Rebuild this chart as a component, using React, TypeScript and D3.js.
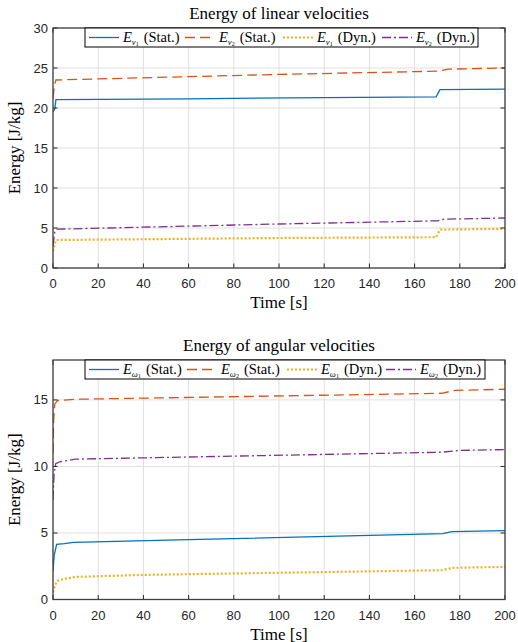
import React from 'react';
import * as d3 from 'd3';

// ---------- data ----------
const xTicks = [0, 20, 40, 60, 80, 100, 120, 140, 160, 180, 200];
const linYTicks = [0, 5, 10, 15, 20, 25, 30];
const angYTicks = [0, 5, 10, 15];

const titles = ['Energy of linear velocities', 'Energy of angular velocities'];
const xLabel = 'Time [s]';
const yLabel = 'Energy [J/kg]';

// linear velocities
const v1StatT = [0, 0.8, 1.3, 60, 120, 169.5, 170.3, 171.2, 200];
const v1StatE = [19.5, 19.9, 21.05, 21.15, 21.3, 21.4, 21.8, 22.3, 22.35];
const v2StatT = [0, 0.6, 1.3, 100, 170, 175, 200];
const v2StatE = [21.2, 22.8, 23.5, 24.2, 24.6, 24.85, 25.0];
const v1DynT = [0, 0.8, 1.5, 100, 169.5, 170.5, 171.5, 200];
const v1DynE = [2.1, 3.0, 3.5, 3.75, 3.85, 4.4, 4.8, 4.9];
const v2DynT = [0, 0.8, 1.5, 100, 170, 173, 200];
const v2DynE = [2.8, 4.5, 4.85, 5.5, 5.9, 6.1, 6.25];

// angular velocities
const w1StatT = [0, 0.5, 1.6, 5, 9, 60, 172.5, 176.5, 200];
const w1StatE = [2.1, 3.3, 4.15, 4.2, 4.3, 4.5, 4.95, 5.1, 5.18];
const w2StatT = [0, 0.3, 0.8, 2, 10, 172, 178, 200];
const w2StatE = [11.0, 13.5, 14.7, 14.95, 15.05, 15.5, 15.72, 15.8];
const w1DynT = [0, 1, 2, 5, 10, 40, 172, 177, 200];
const w1DynE = [0.55, 1.1, 1.4, 1.55, 1.7, 1.85, 2.2, 2.38, 2.45];
const w2DynT = [0, 0.5, 1.2, 3, 10, 172, 180, 200];
const w2DynE = [7.5, 9.5, 10.2, 10.35, 10.55, 11.07, 11.2, 11.27];

const kinds = ['Stat.', 'Stat.', 'Dyn.', 'Dyn.'];
const indices = ['1', '2', '1', '2'];

// ---------- styles ----------
const colors = ['#0072BD', '#D95319', '#EDB120', '#7E2F8E'];
const dashes = ['', '10,5', '2,2', '9,3,2,3'];
const widths = [1.3, 1.3, 2.2, 1.3];

const SERIF = '"Liberation Serif", "Times New Roman", serif';
const SANS = '"Liberation Sans", Arial, Helvetica, sans-serif';
const AX = '#262626';

type Series = { t: number[]; e: number[] };

type PanelProps = {
  top: number;
  bottom: number;
  yMax: number;
  yTicks: number[];
  series: Series[];
  title: string;
  sym: string;
  legendX: number[];
  legendRight: number;
  id: string;
};

const LEFT = 53;
const RIGHT = 505;

function Panel({ top, bottom, yMax, yTicks, series, title, sym, legendX, legendRight, id }: PanelProps) {
  const x = d3.scaleLinear().domain([0, 200]).range([LEFT, RIGHT]);
  const y = d3.scaleLinear().domain([0, yMax]).range([bottom, top]);
  const line = d3
    .line<[number, number]>()
    .x((d) => x(d[0]))
    .y((d) => y(d[1]));
  const tickLen = 4.5;
  const lgTop = top;
  const lgH = 19;
  const lgLeft = 85;
  return (
    <g>
      <defs>
        <clipPath id={id}>
          <rect x={LEFT} y={top} width={RIGHT - LEFT} height={bottom - top} />
        </clipPath>
      </defs>
      <rect x={LEFT} y={top} width={RIGHT - LEFT} height={bottom - top} fill="#fff" />
      {/* grid */}
      {xTicks.map((t) => (
        <line key={'gx' + t} x1={x(t)} x2={x(t)} y1={top} y2={bottom} stroke="#dfdfdf" strokeWidth={1} />
      ))}
      {yTicks.map((t) => (
        <line key={'gy' + t} x1={LEFT} x2={RIGHT} y1={y(t)} y2={y(t)} stroke="#dfdfdf" strokeWidth={1} />
      ))}
      {/* lines */}
      <g clipPath={`url(#${id})`}>
        {series.map((s, i) => (
          <path
            key={i}
            d={line(s.t.map((t, k) => [t, s.e[k]] as [number, number])) || ''}
            fill="none"
            stroke={colors[i]}
            strokeWidth={widths[i]}
            strokeDasharray={dashes[i] || undefined}
          />
        ))}
      </g>
      {/* ticks */}
      {xTicks.map((t) => (
        <g key={'tx' + t}>
          <line x1={x(t)} x2={x(t)} y1={bottom} y2={bottom - tickLen} stroke={AX} strokeWidth={1} />
          <line x1={x(t)} x2={x(t)} y1={top} y2={top + tickLen} stroke={AX} strokeWidth={1} />
          <text x={x(t)} y={bottom + 20} textAnchor="middle" fontFamily={SANS} fontSize={13} fill={AX}>
            {t}
          </text>
        </g>
      ))}
      {yTicks.map((t) => (
        <g key={'ty' + t}>
          <line x1={LEFT} x2={LEFT + tickLen} y1={y(t)} y2={y(t)} stroke={AX} strokeWidth={1} />
          <line x1={RIGHT} x2={RIGHT - tickLen} y1={y(t)} y2={y(t)} stroke={AX} strokeWidth={1} />
          <text x={LEFT - 5} y={y(t) + 4.5} textAnchor="end" fontFamily={SANS} fontSize={13} fill={AX}>
            {t}
          </text>
        </g>
      ))}
      <rect x={LEFT} y={top} width={RIGHT - LEFT} height={bottom - top} fill="none" stroke="#404040" strokeWidth={1.3} />
      {/* title & labels */}
      <text x={(LEFT + RIGHT) / 2} y={top - 9} textAnchor="middle" fontFamily={SERIF} fontWeight="normal" fontSize={17} fill="#000">
        {title}
      </text>
      <text x={(LEFT + RIGHT) / 2} y={bottom + 40} textAnchor="middle" fontFamily={SERIF} fontWeight="normal" fontSize={17} fill="#000">
        {xLabel}
      </text>
      <text
        transform={`translate(20,${(top + bottom) / 2}) rotate(-90)`}
        textAnchor="middle"
        fontFamily={SERIF}
        fontWeight="normal"
        fontSize={17}
        fill="#000"
      >
        {yLabel}
      </text>
      {/* legend */}
      <rect x={lgLeft} y={lgTop} width={legendRight - lgLeft} height={lgH} fill="#fff" stroke="#000" strokeWidth={1} />
      {series.map((_, i) => {
        const lx = legendX[i];
        const ly = lgTop + lgH / 2;
        return (
          <g key={'lg' + i}>
            <line
              x1={lx}
              x2={lx + 30}
              y1={ly}
              y2={ly}
              stroke={colors[i]}
              strokeWidth={widths[i]}
              strokeDasharray={dashes[i] || undefined}
            />
            <text x={lx + 34} y={ly + 4.5} fontFamily={SERIF} fontWeight="normal" fontSize={14.5} fill="#000">
              <tspan fontStyle="italic">E</tspan>
              <tspan fontStyle="italic" fontSize={8.5} dy={2.5}>
                {sym}
              </tspan>
              <tspan fontSize={6} dy={1.5}>
                {indices[i]}
              </tspan>
              <tspan fontSize={14.5} dy={-4} dx={5}>
                {'(' + kinds[i] + ')'}
              </tspan>
            </text>
          </g>
        );
      })}
    </g>
  );
}

export default function App() {
  const lin: Series[] = [
    { t: v1StatT, e: v1StatE },
    { t: v2StatT, e: v2StatE },
    { t: v1DynT, e: v1DynE },
    { t: v2DynT, e: v2DynE },
  ];
  const ang: Series[] = [
    { t: w1StatT, e: w1StatE },
    { t: w2StatT, e: w2StatE },
    { t: w1DynT, e: w1DynE },
    { t: w2DynT, e: w2DynE },
  ];
  return (
    <svg
      width={518}
      height={642}
      style={{ position: 'absolute', left: 0, top: 0, background: '#fff' }}
    >
      <rect width={518} height={642} fill="#fff" />
      <Panel
        id="c1"
        top={28}
        bottom={268}
        yMax={30}
        yTicks={linYTicks}
        series={lin}
        title={titles[0]}
        sym="v"
        legendX={[89, 185, 283, 382]}
        legendRight={478}
      />
      <Panel
        id="c2"
        top={360}
        bottom={599.5}
        yMax={18}
        yTicks={angYTicks}
        series={ang}
        title={titles[1]}
        sym="ω"
        legendX={[89, 187, 287, 386]}
        legendRight={485}
      />
    </svg>
  );
}
